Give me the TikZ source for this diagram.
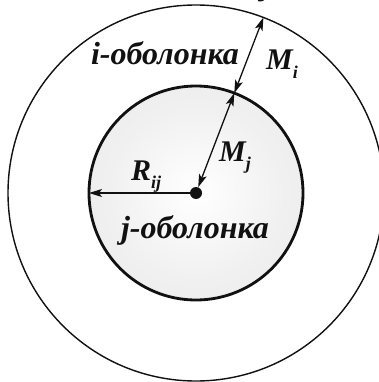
\documentclass[tikz,border=0pt]{standalone}
\usepackage{fontspec}
\setmainfont{Liberation Serif}
\usepackage{xcolor}
\usepackage{tikz}
\usetikzlibrary{arrows.meta}
\definecolor{shInk}{HTML}{111111}
\definecolor{shFill}{HTML}{E2E2E2}
\pgfdeclareradialshading{shGlow}{\pgfpoint{0bp}{0bp}}{color(0bp)=(white); color(20bp)=(white!50!shFill); color(50bp)=(shFill)}
\tikzset{
  sh diagram/.style={x=1pt, y=-1pt, line cap=round, line join=round},
  sh outer/.style={draw=shInk, line width=1.4pt},
  sh inner/.style={draw=shInk, line width=2.8pt, shading=shGlow},
  sh dot/.style={circle, fill=shInk, inner sep=0pt, minimum size=12pt},
  sh arrow/.style={-{Stealth[length=13pt, width=8pt, inset=3pt]},
    draw=shInk, line width=1.3pt},
  sh both/.style={sh arrow, {Stealth[length=13pt, width=8pt, inset=3pt]}-{Stealth[length=13pt, width=8pt, inset=3pt]}},
  sh label/.style={font=\fontsize{30}{34}\selectfont\bfseries\itshape,
    text=shInk, inner sep=0pt},
  sh shell/.style={sh label, font=\fontsize{32}{36}\selectfont\bfseries\itshape}
}
\newcommand{\shsub}[1]{\raisebox{-0.28em}{\fontsize{18}{20}\selectfont #1}}

\begin{document}
\begin{tikzpicture}[sh diagram]
\useasboundingbox (0,0) rectangle (379,382);
\clip (0,0) rectangle (379,382);
% shells
\coordinate (c) at (196,193);
\draw[sh outer] (c) circle[radius=188];
\shade[sh inner] (c) circle[radius=107];
% points on the circles
\coordinate (inTop) at (234.3,93.1);
\coordinate (outTop) at (263.4,17.5);
\coordinate (inLeft) at (89,193);
\node[sh dot] (ctr) at (c) {};
% dimensions
\draw[sh both] (inTop) -- (outTop);
\draw[sh both] (ctr) -- (inTop);
\draw[sh arrow] (ctr.center) -- (inLeft);
% labels
\node[sh label, anchor=base] (topj) at (266,-4) {j};
\node[sh shell, anchor=base] (iShell) at (165,65) {i-оболонка};
\node[sh label, anchor=base west] (Mi) at (266,70) {M\shsub{i}};
\node[sh label, anchor=base west] (Mj) at (219,161) {M\shsub{j}};
\node[sh label, anchor=base west] (Rij) at (131,180) {R\shsub{ij}};
\node[sh shell, anchor=base] (jShell) at (195,238) {j-оболонка};
\end{tikzpicture}
\end{document}
